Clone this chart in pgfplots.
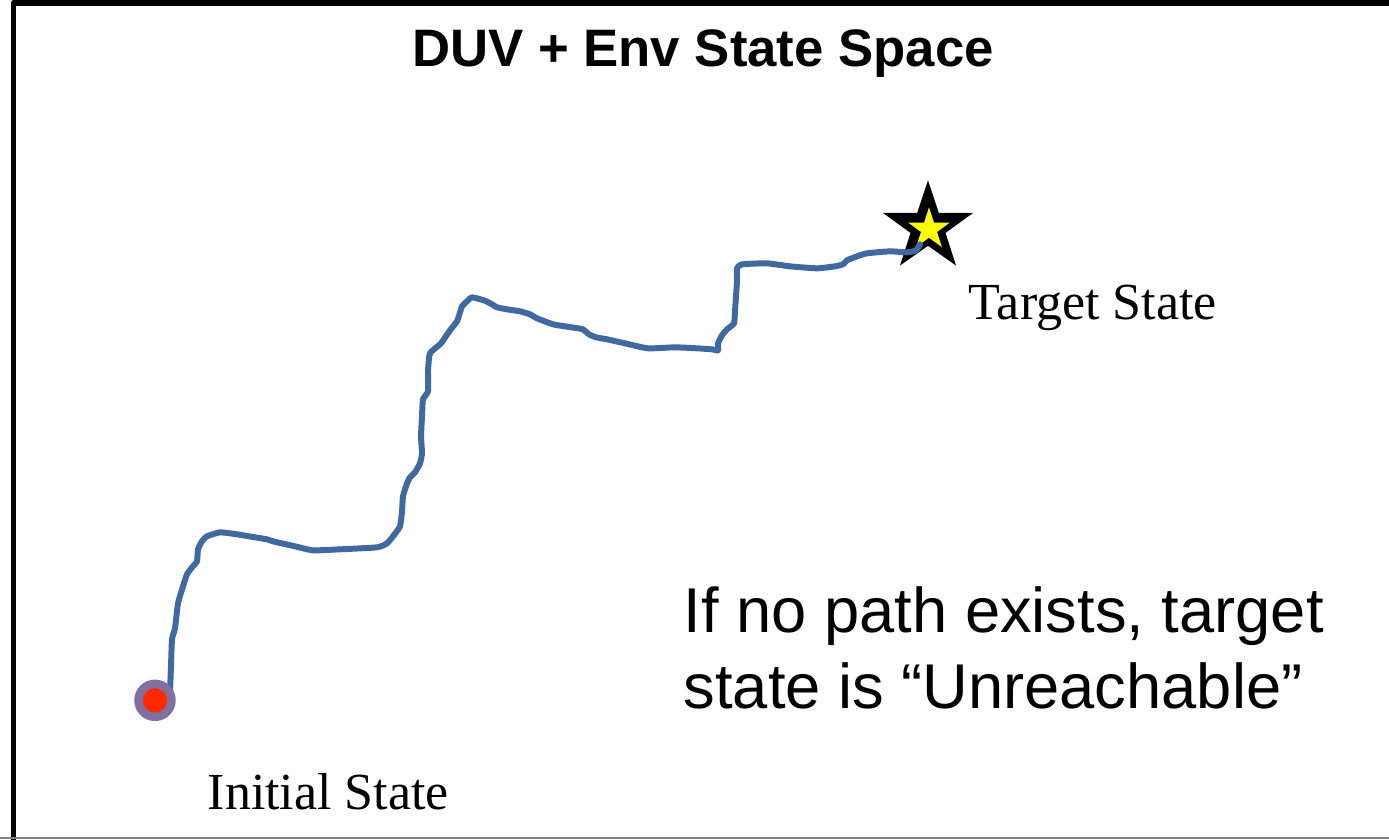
\documentclass[border=0pt]{standalone}
\usepackage{fontspec}
\setmainfont{Liberation Serif}
\setsansfont{Liberation Sans}
\usepackage{pgfplots}
\pgfplotsset{compat=1.18}
\definecolor{pathblue}{RGB}{64,105,160}
\definecolor{ringpurple}{RGB}{128,112,160}
\definecolor{dotred}{RGB}{255,42,0}
\definecolor{staryellow}{RGB}{255,255,0}
\begin{document}
\begin{tikzpicture}
\begin{axis}[
  width=13.89cm, height=8.43cm, scale only axis,
  xmin=0, xmax=1389, ymin=0, ymax=843, y dir=reverse,
  hide axis,
]
% frame
\addplot[black, line width=1.6pt, line join=round] coordinates {(13.5,850) (13.5,6.5) (1400,6.5)};
\addplot[gray, line width=0.5pt] coordinates {(0,842) (1400,842)};
% initial state
\addplot[only marks, mark=*, mark size=4.7pt, mark options={fill=dotred, draw=ringpurple, line width=2.4pt}] coordinates {(155,704)};
% target star (outer black)
\addplot[fill=black, draw=none] coordinates {
(928,184) (938.8,216.5) (973.2,216.5) (945.5,236.6) (956.0,269.2)
(928,249.5) (900.0,269.2) (910.5,236.6) (882.8,216.5) (917.2,216.5)} --cycle;
\addplot[fill=staryellow, draw=none] coordinates {
(929,211) (933.9,226.2) (949.9,226.2) (937.0,235.6) (941.9,250.8)
(929,241.4) (916.1,250.8) (921.0,235.6) (908.1,226.2) (924.1,226.2)} --cycle;
% path
\addplot[pathblue, line width=1.7pt, line join=round, line cap=round, smooth, tension=0.3] coordinates {
(170,697)(171,670)(172,643)(175,632)(178,607)(183,590)(187,578)(192,571)(197,565)(198,553)(202,545)(207,540)(220,536)(237,538)(255,541)(267,543)(273,545)(295,550)(313,554)(340,553)(377,551)(387,547)(393,540)(400,530)(402,515)(403,500)(407,487)(410,481)(415,476)(420,467)(422,457)(421,440)(422,420)(423,403)(428,395)(428,375)(429,362)(430,357)(435,352)(441,347)(450,334)(457,325)(460,316)(462,310)(468,304)(472,301)(484,304)(492,308)(497,311)(507,313)(520,315)(530,318)(537,322)(553,328)(565,330)(578,332)(583,333)(589,338)(596,341)(607,343)(625,347)(648,352)(675,351)(697,352)(712,353)(718,354)(718,347)(722,339)(727,333)(734,327)(735,315)(736,300)(737,285)(737,272)(742,268)(767,267)(790,270)(817,272)(835,270)(843,268)(847,264)(857,260)(867,257)(890,255)(907,256)(916,254)(920,248)};
% texts
\node[anchor=base, font=\sffamily\bfseries\fontsize{15pt}{18pt}\selectfont] at (axis cs:703,70) {DUV + Env State Space};
\node[anchor=base west, inner sep=0pt, font=\fontsize{14.8pt}{17pt}\selectfont] at (axis cs:968,323) {Target State};
\node[anchor=base west, inner sep=0pt, font=\fontsize{14.8pt}{17pt}\selectfont] at (axis cs:207,813) {Initial State};
\node[anchor=base west, inner sep=0pt, font=\sffamily\fontsize{18pt}{22pt}\selectfont] at (axis cs:683,636) {If no path exists, target};
\node[anchor=base west, inner sep=0pt, font=\sffamily\fontsize{18pt}{22pt}\selectfont] at (axis cs:683,712) {state is “Unreachable”};
\end{axis}
\end{tikzpicture}
\end{document}
